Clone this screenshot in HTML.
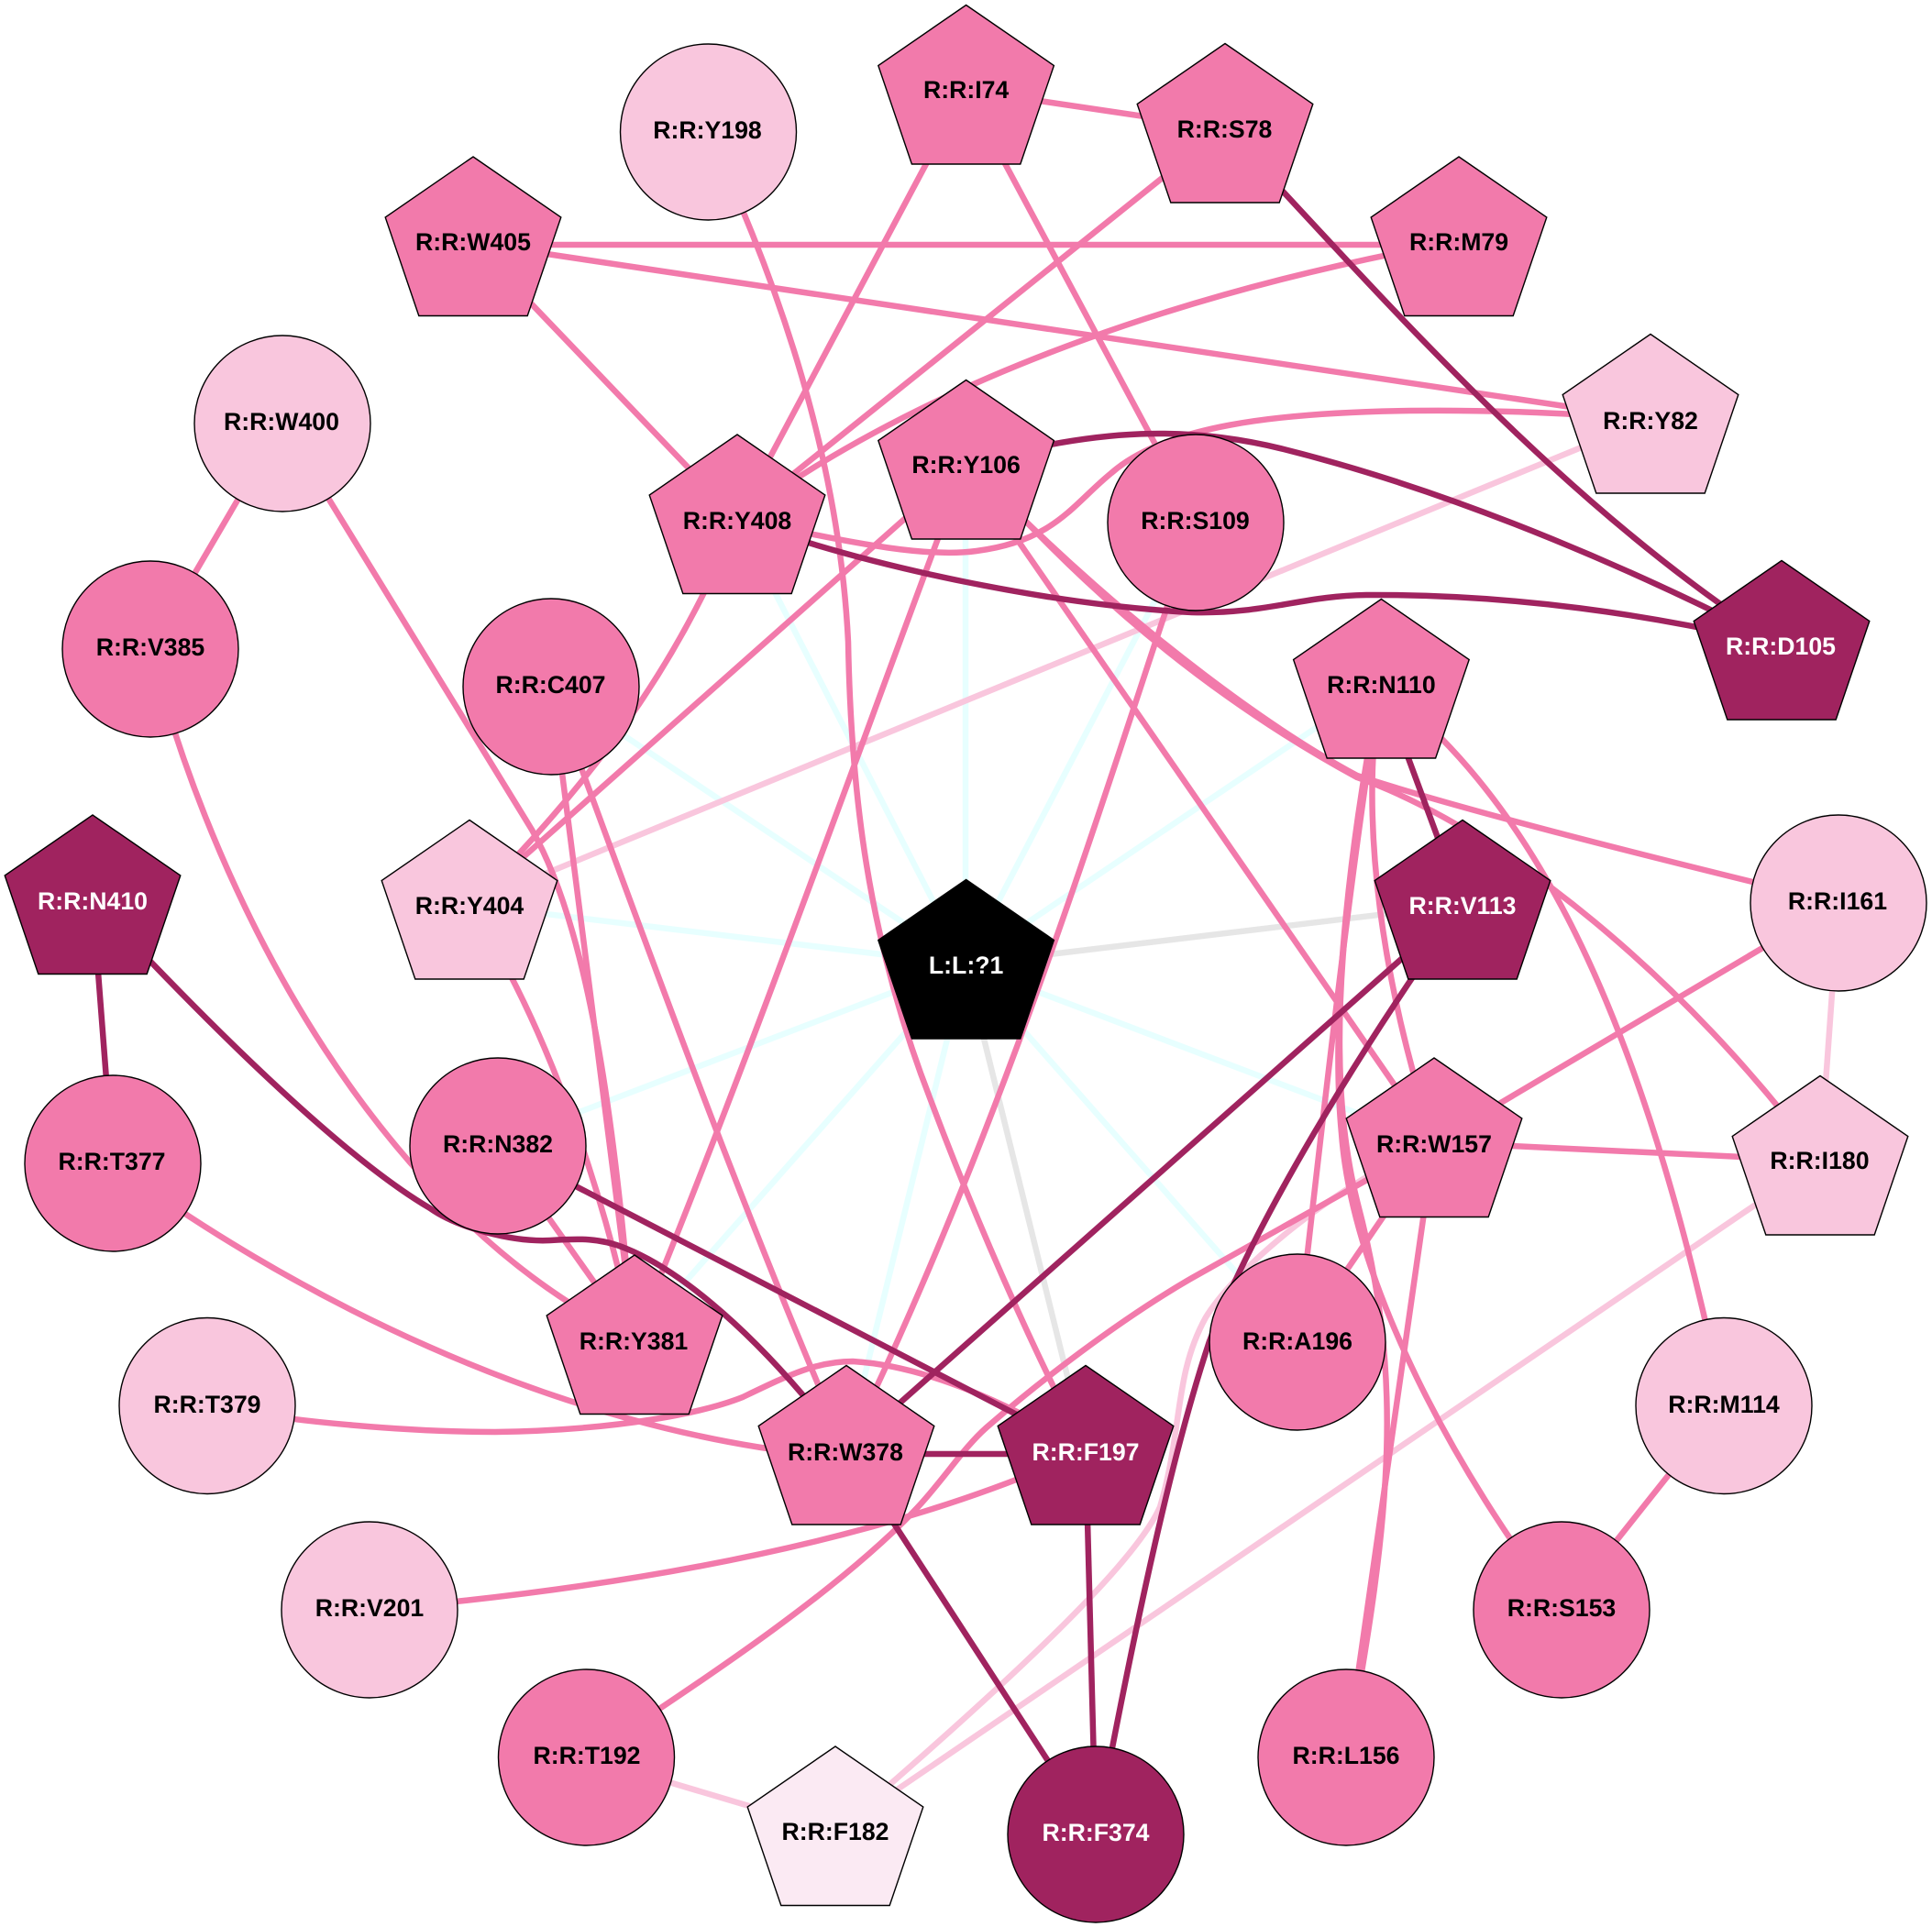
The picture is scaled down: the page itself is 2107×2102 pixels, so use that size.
<!DOCTYPE html>
<html><head><meta charset="utf-8"><style>
html,body{margin:0;padding:0;background:#fff}
svg{display:block}
text{font-family:"Liberation Sans",sans-serif;font-weight:bold;font-size:26.67px;text-anchor:middle}
.e path,.e line{fill:none;stroke-width:6.5}
.c line{stroke:#e7ffff}.g line{stroke:#e6e6e6}
.p path,.p line{stroke:#f27aab}.d path,.d line{stroke:#a0235f}.l path,.l line{stroke:#f9c6dd}
.n polygon,.n circle{stroke:#000;stroke-width:1.4}
</style></head><body>
<svg width="2107" height="2102" viewBox="0 0 2107 2102" xmlns="http://www.w3.org/2000/svg">
<defs><polygon id="pg" points="0,-92.5 95.8,-26.5 59.2,81 -59.2,81 -95.8,-26.5"/></defs>
<rect width="2107" height="2102" fill="#fff"/>
<g class="e c">
<line x1="1053" y1="1052" x2="804" y2="566"/><line x1="1053" y1="1052" x2="1053" y2="507"/><line x1="1053" y1="1052" x2="1304" y2="570"/><line x1="1053" y1="1052" x2="1506" y2="746"/><line x1="1053" y1="1052" x2="1564" y2="1246"/><line x1="1053" y1="1052" x2="1415" y2="1464"/><line x1="1053" y1="1052" x2="923" y2="1582"/><line x1="1053" y1="1052" x2="692" y2="1461"/><line x1="1053" y1="1052" x2="543" y2="1247"/><line x1="1053" y1="1052" x2="512" y2="987"/><line x1="1053" y1="1052" x2="601" y2="749"/>
</g>
<g class="e g">
<line x1="1053" y1="1052" x2="1595" y2="987"/><line x1="1053" y1="1052" x2="1184" y2="1582"/>
</g>
<g class="e l">
<line x1="1800" y1="457" x2="512" y2="987"/>
<line x1="2005" y1="985" x2="1985" y2="1266"/>
<line x1="1985" y1="1266" x2="911" y2="1998"/>
<line x1="639" y1="1917" x2="911" y2="1998"/>
<path d="M1564,1246 C1460,1290 1350,1380 1315,1437 C1280,1500 1290,1560 1265,1644 C1240,1700 1130,1810 911,1998"/>
</g>
<g class="e p">
<line x1="1053" y1="98" x2="1335" y2="140"/>
<line x1="1053" y1="98" x2="804" y2="566"/>
<line x1="1053" y1="98" x2="1304" y2="567"/>
<line x1="1335" y1="140" x2="804" y2="566"/>
<line x1="516" y1="267" x2="1591" y2="267"/>
<line x1="516" y1="265" x2="1800" y2="457"/>
<line x1="516" y1="265" x2="804" y2="566"/>
<path d="M1591,263 C1330,310 1030,400 804,566"/>
<path d="M772,144 C850,310 915,500 925,700 C928,860 945,1020 1015,1200 C1060,1320 1120,1460 1184,1582"/>
<line x1="308" y1="462" x2="164" y2="708"/>
<path d="M308,462 L580,905 C640,1010 670,1210 690,1461"/>
<path d="M512,987 C580,1090 650,1260 692,1461"/>
<path d="M601,749 C625,950 650,1150 692,1461"/>
<path d="M601,749 C680,960 800,1300 923,1582"/>
<path d="M804,566 C750,700 670,830 512,987"/>
<line x1="1053" y1="507" x2="512" y2="987"/>
<path d="M804,566 C900,585 1000,610 1065,601 C1150,590 1170,550 1212,516 C1270,465 1390,450 1538,448 C1620,447 1700,450 1800,457"/>
<path d="M1053,507 L1120,570 C1250,695 1385,795 1480,846 C1600,885 1800,935 2005,985"/>
<path d="M1053,507 L1120,570 C1235,690 1355,780 1480,848 C1640,905 1840,1070 1985,1266"/>
<line x1="1053" y1="507" x2="1564" y2="1246"/>
<path d="M1053,507 C950,780 820,1150 692,1461"/>
<path d="M1304,570 C1230,780 1110,1200 923,1582"/>
<path d="M1506,746 C1650,860 1780,1050 1880,1533"/>
<path d="M1506,746 C1480,900 1450,1150 1415,1464"/>
<path d="M1506,746 C1480,900 1510,1080 1564,1246"/>
<path d="M1506,746 C1475,900 1450,1100 1463,1236 C1475,1400 1590,1610 1703,1756"/>
<path d="M1506,746 C1470,950 1440,1150 1480,1310 C1530,1500 1520,1640 1468,1920"/>
<line x1="1564" y1="1246" x2="1468" y2="1917"/>
<line x1="2005" y1="985" x2="1564" y2="1246"/>
<line x1="1564" y1="1246" x2="1985" y2="1266"/>
<line x1="1564" y1="1246" x2="1415" y2="1464"/>
<path d="M1564,1246 L1300,1394 C1220,1440 1130,1510 1076,1557 C1050,1580 1030,1613 1000,1645 C920,1730 780,1825 639,1917"/>
<line x1="1880" y1="1533" x2="1703" y2="1756"/>
<path d="M123,1269 C300,1400 600,1565 923,1590"/>
<path d="M226,1533 C320,1552 450,1562 540,1562 C680,1560 770,1540 810,1524 C860,1500 890,1485 930,1485 C1010,1490 1100,1530 1184,1582"/>
<path d="M403,1756 C650,1735 950,1690 1184,1582"/>
<path d="M164,708 C240,1000 420,1330 692,1461"/>
<line x1="543" y1="1250" x2="692" y2="1461"/>
</g>
<g class="e d">
<path d="M1335,140 C1500,315 1700,550 1943,704"/>
<path d="M1053,507 C1200,465 1300,465 1400,490 C1600,540 1800,630 1943,704"/>
<path d="M804,566 C950,620 1150,660 1300,668 C1380,670 1420,650 1490,649 C1650,648 1800,670 1943,704"/>
<line x1="1506" y1="746" x2="1595" y2="987"/>
<line x1="1595" y1="987" x2="923" y2="1582"/>
<path d="M1595,987 C1480,1150 1370,1330 1319,1463 C1280,1580 1240,1760 1195,2001"/>
<line x1="101" y1="982" x2="123" y2="1269"/>
<path d="M101,982 C220,1110 370,1260 469,1318 C500,1340 560,1355 600,1353 C630,1351 655,1350 683,1362 C740,1385 810,1445 875,1521 L923,1582"/>
<line x1="543" y1="1250" x2="1184" y2="1582"/>
<line x1="923" y1="1586" x2="1184" y2="1586"/>
<line x1="923" y1="1582" x2="1195" y2="2001"/>
<line x1="1184" y1="1582" x2="1195" y2="2001"/>
</g>
<g class="n">
<circle cx="772.5" cy="144" r="96" fill="#f9c6dd"/><text x="771.5" y="151">R:R:Y198</text>
<use href="#pg" x="1053.6" y="98" fill="#f27aab" stroke="#000" stroke-width="1.4"/><text x="1053.6" y="107">R:R:I74</text>
<use href="#pg" x="1336" y="140" fill="#f27aab" stroke="#000" stroke-width="1.4"/><text x="1335.5" y="150">R:R:S78</text>
<use href="#pg" x="516" y="263.5" fill="#f27aab" stroke="#000" stroke-width="1.4"/><text x="516" y="273">R:R:W405</text>
<use href="#pg" x="1591" y="263.5" fill="#f27aab" stroke="#000" stroke-width="1.4"/><text x="1591" y="273">R:R:M79</text>
<circle cx="308" cy="462" r="96" fill="#f9c6dd"/><text x="307" y="469">R:R:W400</text>
<use href="#pg" x="1800" y="457" fill="#f9c6dd" stroke="#000" stroke-width="1.4"/><text x="1800" y="468">R:R:Y82</text>
<use href="#pg" x="804" y="566.5" fill="#f27aab" stroke="#000" stroke-width="1.4"/><text x="804" y="577">R:R:Y408</text>
<use href="#pg" x="1053.6" y="507" fill="#f27aab" stroke="#000" stroke-width="1.4"/><text x="1053.6" y="516">R:R:Y106</text>
<circle cx="1304" cy="570" r="96" fill="#f27aab"/><text x="1303.5" y="577">R:R:S109</text>
<circle cx="164" cy="708" r="96" fill="#f27aab"/><text x="164" y="715">R:R:V385</text>
<circle cx="601" cy="749" r="96" fill="#f27aab"/><text x="600.5" y="756">R:R:C407</text>
<use href="#pg" x="1943" y="704" fill="#a0235f" stroke="#000" stroke-width="1.4"/><text x="1942" y="714" fill="#fff">R:R:D105</text>
<use href="#pg" x="1506.4" y="746" fill="#f27aab" stroke="#000" stroke-width="1.4"/><text x="1506.4" y="756">R:R:N110</text>
<use href="#pg" x="101" y="981.5" fill="#a0235f" stroke="#000" stroke-width="1.4"/><text x="101" y="992" fill="#fff">R:R:N410</text>
<use href="#pg" x="512" y="987" fill="#f9c6dd" stroke="#000" stroke-width="1.4"/><text x="512" y="997">R:R:Y404</text>
<use href="#pg" x="1595" y="987" fill="#a0235f" stroke="#000" stroke-width="1.4"/><text x="1595" y="997" fill="#fff">R:R:V113</text>
<circle cx="2005" cy="985" r="96" fill="#f9c6dd"/><text x="2004" y="992">R:R:I161</text>
<use href="#pg" x="1053.6" y="1052" fill="#000" stroke="#000" stroke-width="1.4"/><text x="1053.6" y="1062" fill="#fff">L:L:?1</text>
<circle cx="543" cy="1250" r="96" fill="#f27aab"/><text x="543" y="1257">R:R:N382</text>
<use href="#pg" x="1564" y="1246.5" fill="#f27aab" stroke="#000" stroke-width="1.4"/><text x="1564" y="1257">R:R:W157</text>
<use href="#pg" x="1985" y="1266" fill="#f9c6dd" stroke="#000" stroke-width="1.4"/><text x="1984.5" y="1275">R:R:I180</text>
<circle cx="123" cy="1269" r="96" fill="#f27aab"/><text x="122" y="1276">R:R:T377</text>
<circle cx="1415" cy="1464" r="96" fill="#f27aab"/><text x="1415" y="1472">R:R:A196</text>
<use href="#pg" x="692" y="1461.5" fill="#f27aab" stroke="#000" stroke-width="1.4"/><text x="691" y="1472">R:R:Y381</text>
<circle cx="226" cy="1533.5" r="96" fill="#f9c6dd"/><text x="226" y="1541">R:R:T379</text>
<circle cx="1880" cy="1533.5" r="96" fill="#f9c6dd"/><text x="1880" y="1541">R:R:M114</text>
<use href="#pg" x="923" y="1582" fill="#f27aab" stroke="#000" stroke-width="1.4"/><text x="922" y="1593">R:R:W378</text>
<use href="#pg" x="1184" y="1582" fill="#a0235f" stroke="#000" stroke-width="1.4"/><text x="1184" y="1593" fill="#fff">R:R:F197</text>
<circle cx="1703" cy="1756" r="96" fill="#f27aab"/><text x="1703" y="1763">R:R:S153</text>
<circle cx="403" cy="1756" r="96" fill="#f9c6dd"/><text x="403" y="1763">R:R:V201</text>
<circle cx="639.5" cy="1917" r="96" fill="#f27aab"/><text x="640" y="1924">R:R:T192</text>
<circle cx="1468" cy="1917" r="96" fill="#f27aab"/><text x="1468" y="1924">R:R:L156</text>
<use href="#pg" x="911" y="1997.5" fill="#fbeaf3" stroke="#000" stroke-width="1.4"/><text x="911" y="2007">R:R:F182</text>
<circle cx="1195" cy="2001" r="96" fill="#a0235f"/><text x="1195" y="2008" fill="#fff">R:R:F374</text>
</g>
</svg>
</body></html>
